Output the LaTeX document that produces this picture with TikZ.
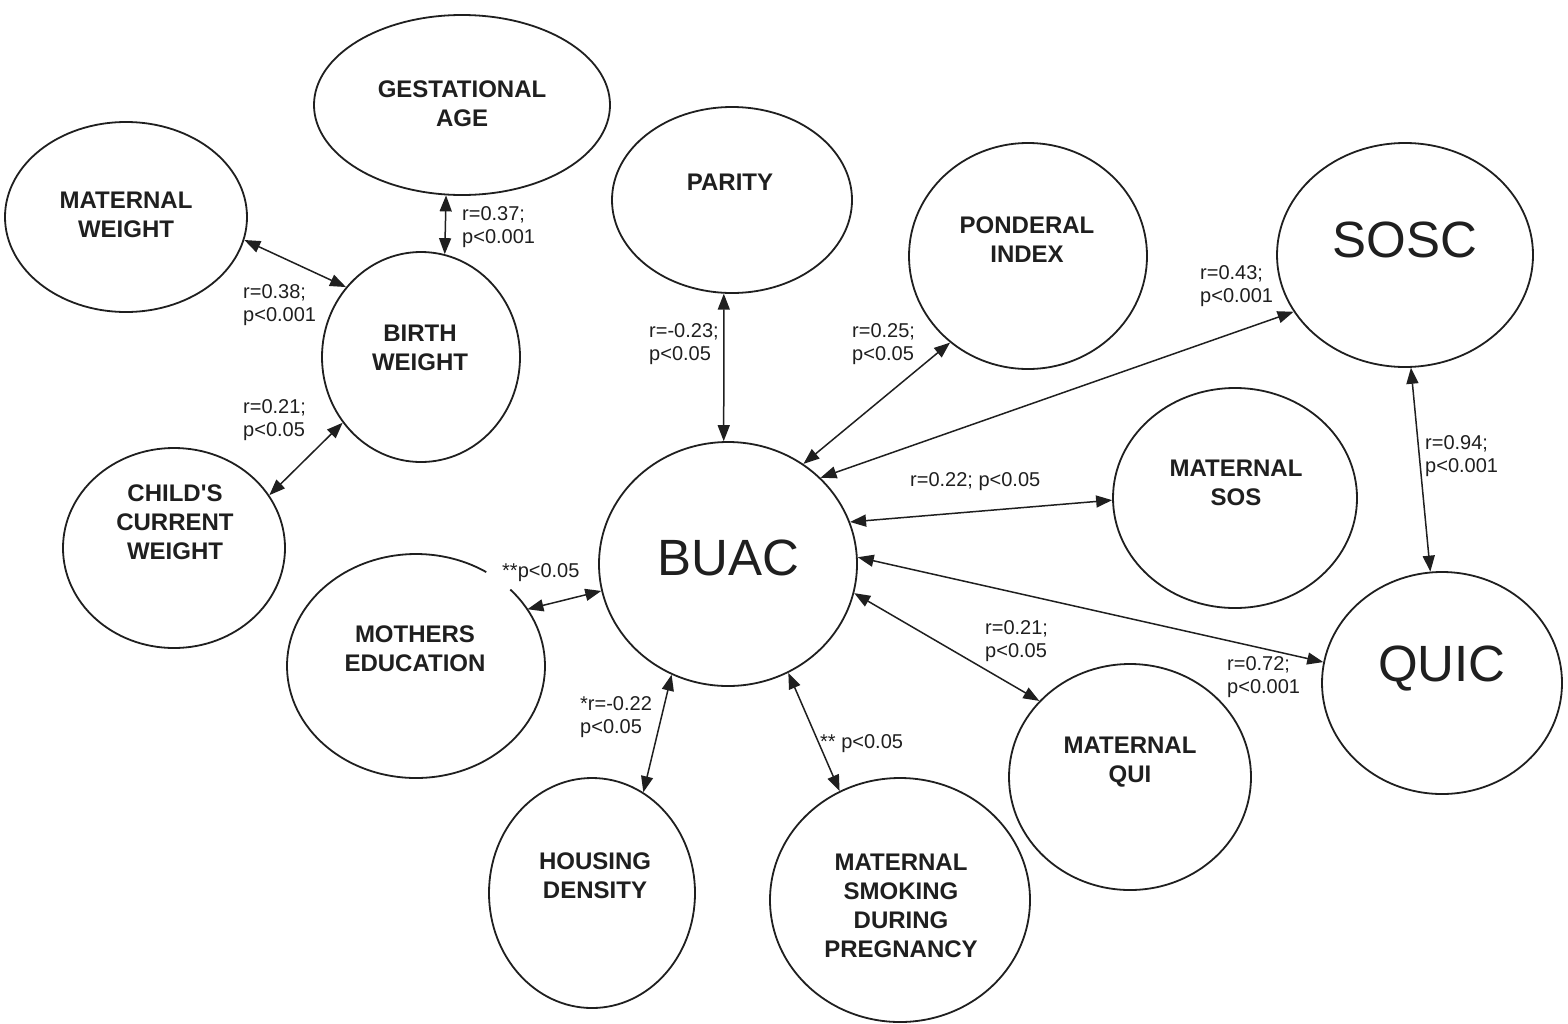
\documentclass[tikz,border=0pt]{standalone}
\usepackage{fontspec}
\setmainfont{Liberation Sans}
\usetikzlibrary{shapes.geometric,arrows.meta}
\definecolor{ink}{gray}{0.12}
\begin{document}
\begin{tikzpicture}[x=1pt,y=-1pt,
  oval/.style={ellipse, draw=ink, line width=1.8pt, inner sep=0pt},
  nm/.style={font=\fontsize{24}{29}\selectfont\bfseries, align=center, text=ink, inner sep=0pt},
  big/.style={font=\fontsize{51}{60}\selectfont, text=ink, inner sep=0pt},
  lbl/.style={font=\fontsize{20}{23}\selectfont, align=left, anchor=west, text=ink, inner sep=0pt},
  link/.style={draw=ink, line width=1.5pt, {Triangle[length=16pt,width=12pt]}-{Triangle[length=16pt,width=12pt]}}
]
\fill[white,use as bounding box] (0,0) rectangle (1568,1023);

% ellipses
\node[oval, minimum width=296pt, minimum height=180pt] (ga) at (462,105) {};
\node[oval, minimum width=242pt, minimum height=190pt] (mw) at (126,217) {};
\node[oval, minimum width=240pt, minimum height=186pt] (pa) at (732,200) {};
\node[oval, minimum width=238pt, minimum height=226pt] (pi) at (1028,256) {};
\node[oval, minimum width=256pt, minimum height=224pt] (sosc) at (1405,255) {};
\node[oval, minimum width=198pt, minimum height=210pt] (bw) at (421,357) {};
\node[oval, minimum width=222pt, minimum height=200pt] (ccw) at (174,548) {};
\node[ellipse, inner sep=0pt, minimum width=258pt, minimum height=224pt] (me) at (416,666) {};
\draw[ink, line width=1.8pt] ([shift={(-43:129 and 112)}]me.center) arc[start angle=-43, end angle=303, x radius=129, y radius=112];
\node[oval, minimum width=258pt, minimum height=244pt] (buac) at (728,564) {};
\node[oval, minimum width=244pt, minimum height=220pt] (msos) at (1235,498) {};
\node[oval, minimum width=240pt, minimum height=222pt] (quic) at (1442,683) {};
\node[oval, minimum width=242pt, minimum height=226pt] (mqui) at (1130,777) {};
\node[oval, minimum width=206pt, minimum height=230pt] (hd) at (592,893) {};
\node[oval, minimum width=260pt, minimum height=244pt] (sm) at (900,900) {};

% node texts
\node[nm] (tga) at (462,104) {GESTATIONAL\\AGE};
\node[nm] (tmw) at (126,215) {MATERNAL\\WEIGHT};
\node[nm] (tpa) at (730,182) {PARITY};
\node[nm] (tpi) at (1027,240) {PONDERAL\\INDEX};
\node[big] (tsosc) at (1405,240) {SOSC};
\node[nm] (tbw) at (420,348) {BIRTH\\WEIGHT};
\node[nm] (tccw) at (175,522) {CHILD\textquotesingle S\\CURRENT\\WEIGHT};
\node[nm] (tme) at (415,649) {MOTHERS\\EDUCATION};
\node[big] (tbuac) at (728,558) {BUAC};
\node[nm] (tmsos) at (1236,483) {MATERNAL\\SOS};
\node[big] (tquic) at (1442,669) {QUIC};
\node[nm] (tmqui) at (1130,762) {MATERNAL\\QUI};
\node[nm] (thd) at (595,876) {HOUSING\\DENSITY};
\node[nm] (tsm) at (901,906) {MATERNAL\\SMOKING\\DURING\\PREGNANCY};

% connectors
\draw[link] (ga.260) -- (bw.77);
\draw[link] (mw.-11) -- (bw.137);
\draw[link] (bw.220) -- (ccw.29);
\draw[link] (pa.265) -- (buac.92);
\draw[link] (pi.228) -- (buac.53);
\draw[link] (sosc.207) -- (buac.43);
\draw[link] (msos.181) -- (buac.19);
\draw[link] (quic.170) -- (buac.3);
\draw[link] (mqui.140) -- (buac.-13);
\draw[link] (sm.119) -- (buac.-61);
\draw[link] (hd.63) -- (buac.243);
\draw[link] (me.27) -- (buac.192);
\draw[link] (sosc.-87.5) -- (quic.96);

% labels
\node[lbl] (l1) at (462,227) {r=0.37;\\p<0.001};
\node[lbl] (l2) at (243,305) {r=0.38;\\p<0.001};
\node[lbl] (l3) at (243,420) {r=0.21;\\p<0.05};
\node[lbl] (l4) at (649,344) {r=-0.23;\\p<0.05};
\node[lbl] (l5) at (852,344) {r=0.25;\\p<0.05};
\node[lbl] (l6) at (1200,286) {r=0.43;\\p<0.001};
\node[lbl] (l7) at (910,482) {r=0.22; p<0.05};
\node[lbl] (l8) at (1425,456) {r=0.94;\\p<0.001};
\node[lbl] (l9) at (502,573) {**p<0.05};
\node[lbl] (l10) at (580,717) {*r=-0.22\\p<0.05};
\node[lbl] (l11) at (820,744) {** p<0.05};
\node[lbl] (l12) at (985,641) {r=0.21;\\p<0.05};
\node[lbl] (l13) at (1227,677) {r=0.72;\\p<0.001};
\end{tikzpicture}
\end{document}
